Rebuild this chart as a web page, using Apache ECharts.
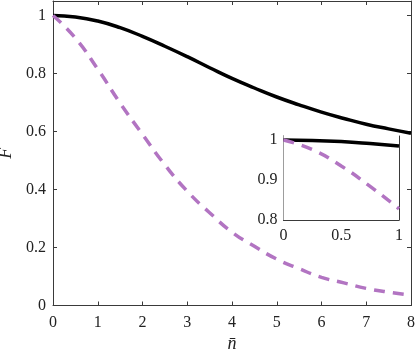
<!DOCTYPE html>
<html>
<head>
<meta charset="utf-8">
<script src="https://cdn.jsdelivr.net/npm/echarts@6/dist/echarts.min.js"></script>
<style>
  html, body { margin: 0; padding: 0; background: #fff; }
  #chart { width: 415px; height: 349px; }
</style>
</head>
<body>
<div id="chart"></div>
<script>
// main panel
var nbar = [0, 0.5, 1, 1.5, 2, 2.5, 3, 3.5, 4, 4.5, 5, 5.5, 6, 6.5, 7, 7.5, 8];
var fBlack = [1, 0.995, 0.981, 0.958, 0.928, 0.894, 0.858, 0.82, 0.783, 0.75, 0.719, 0.692, 0.667, 0.645, 0.625, 0.609, 0.594];
var fPurple = [1, 0.922, 0.815, 0.698, 0.59, 0.485, 0.394, 0.32, 0.253, 0.204, 0.16, 0.127, 0.097, 0.078, 0.059, 0.046, 0.036];

// inset (zoom on 0..1)
var nbarIn = [0, 0.25, 0.5, 0.75, 1];
var fBlackIn = [1, 0.999, 0.996, 0.991, 0.985];
var fPurpleIn = [1, 0.976, 0.935, 0.884, 0.828];

var xTicks = [0, 1, 2, 3, 4, 5, 6, 7, 8];
var yTicks = [0, 0.2, 0.4, 0.6, 0.8, 1];
var xTicksIn = [0, 0.5, 1];
var yTicksIn = [0.8, 0.9, 1];

function pairs(xs, ys){
  var out = [];
  for(var i=0;i<xs.length;i++){
    out.push([xs[i], ys[i]]);
  }
  return out;
}

var font = 'Liberation Serif';
var axisCol = '#3a3a3a';
var purple = '#b274c2';

function axis(opt, ticks, showLabel, pos, gridIndex, labelMargin){
  var a = {
    type: 'value',
    gridIndex: gridIndex,
    position: pos,
    min: opt.min,
    max: opt.max,
    splitLine: { show: false },
    axisLine: { show: true, onZero: false, lineStyle: { color: axisCol, width: 1 } },
    axisTick: { show: true, inside: true, length: 4, customValues: ticks, lineStyle: { color: axisCol } },
    axisLabel: {
      show: showLabel, customValues: ticks, margin: labelMargin,
      fontFamily: font, fontSize: 16, color: '#222',
      formatter: function(v){ return '{t|' + (+(+v).toFixed(2)) + '}'; },
      rich: { t: { fontFamily: font, fontSize: 16, color: '#222' } }
    }
  };
  return a;
}

var chart = echarts.init(document.getElementById('chart'));

var xMain = axis({min: 0, max: 8}, xTicks, true, 'bottom', 0, 9);
xMain.name = 'n\u0304';
xMain.nameLocation = 'middle';
xMain.nameGap = 24;
xMain.nameTextStyle = { fontFamily: font, fontSize: 18, fontStyle: 'italic', color: '#222' };
var yMain = axis({min: 0, max: 1.05}, yTicks, true, 'left', 0, 7);
yMain.name = 'F';
yMain.nameLocation = 'middle';
yMain.nameGap = 29;
yMain.nameTextStyle = { fontFamily: font, fontSize: 18, fontStyle: 'italic', color: '#222' };

var xIn = axis({min: 0, max: 1}, xTicksIn, true, 'bottom', 1, 8);
var yIn = axis({min: 0.8, max: 1.01}, yTicksIn, true, 'left', 1, 6);

chart.setOption({
  animation: false,
  backgroundColor: '#fff',
  textStyle: { fontFamily: font },
  grid: [
    { left: 53, right: 4, top: 1, bottom: 43.5, outerBoundsMode: 'none' },
    { left: 283.5, top: 136, width: 115.5, height: 84, outerBoundsMode: 'none',
      show: true, backgroundColor: '#fff', borderWidth: 0, z: 5 }
  ],
  xAxis: [
    xMain,
    axis({min: 0, max: 8}, xTicks, false, 'top', 0, 8),
    xIn,
    axis({min: 0, max: 1}, xTicksIn, false, 'top', 1, 8)
  ],
  yAxis: [
    yMain,
    axis({min: 0, max: 1.05}, yTicks, false, 'right', 0, 8),
    yIn,
    axis({min: 0.8, max: 1.01}, yTicksIn, false, 'right', 1, 8)
  ],
  series: [
    {
      type: 'line', xAxisIndex: 0, yAxisIndex: 0, data: pairs(nbar, fBlack),
      smooth: true, showSymbol: false, lineStyle: { color: '#000', width: 3.5 }, z: 2
    },
    {
      type: 'line', xAxisIndex: 0, yAxisIndex: 0, data: pairs(nbar, fPurple),
      smooth: true, showSymbol: false, lineStyle: { color: purple, width: 3.5, type: [11, 8] }, z: 2
    },
    {
      type: 'line', xAxisIndex: 2, yAxisIndex: 2, data: pairs(nbarIn, fBlackIn),
      smooth: true, showSymbol: false, lineStyle: { color: '#000', width: 3.5 }, z: 6
    },
    {
      type: 'line', xAxisIndex: 2, yAxisIndex: 2, data: pairs(nbarIn, fPurpleIn),
      smooth: true, showSymbol: false, lineStyle: { color: purple, width: 3.5, type: [11, 8] }, z: 6
    }
  ]
});
</script>
</body>
</html>
